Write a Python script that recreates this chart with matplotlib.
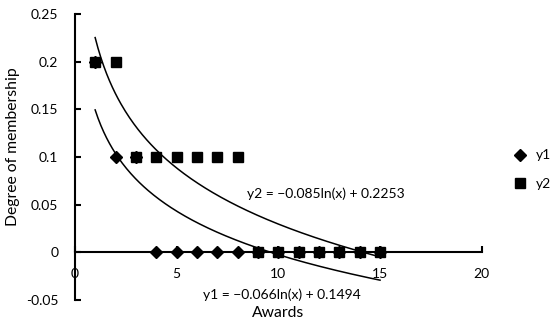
import matplotlib
matplotlib.use('Agg')

import numpy as np
import matplotlib.pyplot as plt

plt.rcParams['font.family'] = ['Lato', 'DejaVu Sans']

x = [1, 2, 3, 4, 5, 6, 7, 8, 9, 10, 11, 12, 13, 14, 15]
y1 = [0.2, 0.1, 0.1, 0, 0, 0, 0, 0, 0, 0, 0, 0, 0, 0, 0]
y2 = [0.2, 0.2, 0.1, 0.1, 0.1, 0.1, 0.1, 0.1, 0, 0, 0, 0, 0, 0, 0]
a1, b1 = -0.066, 0.1494
a2, b2 = -0.085, 0.2253

fig = plt.figure(figsize=(5.5, 3.27), dpi=100)
ax = fig.add_axes([0.136, 0.083, 0.74, 0.874])

ax.plot(x, y1, linestyle='none', marker='D', markersize=6, color='black', label='y1')
ax.plot(x, y2, linestyle='none', marker='s', markersize=6.5, color='black', label='y2')

xt = np.linspace(1, 15, 200)
ax.plot(xt, a1 * np.log(xt) + b1, color='black', linewidth=1.1)
ax.plot(xt, a2 * np.log(xt) + b2, color='black', linewidth=1.1)

ax.set_xlim(0, 20)
ax.set_ylim(-0.05, 0.25)
ax.set_xticks([0, 5, 10, 15, 20])
ax.set_yticks([-0.05, 0, 0.05, 0.1, 0.15, 0.2, 0.25])
ax.set_yticklabels(['-0.05', '0', '0.05', '0.1', '0.15', '0.2', '0.25'])
ax.spines['bottom'].set_position(('data', 0))
ax.spines['top'].set_visible(False)
ax.spines['right'].set_visible(False)
ax.spines['left'].set_linewidth(1.5)
ax.spines['bottom'].set_linewidth(1.5)
ax.tick_params(direction='in', length=4.5, width=1.5, labelsize=10)
ax.tick_params(axis='x', pad=11)
ax.tick_params(axis='y', pad=12)

ax.text(8.45, 0.0615, 'y2 = \u22120.085ln(x) + 0.2253', fontsize=10, va='center')
ax.text(6.3, -0.0448, 'y1 = \u22120.066ln(x) + 0.1494', fontsize=10, va='center')

fig.text(0.024, 0.553, 'Degree of membership', fontsize=11.3, rotation=90,
         ha='center', va='center')
fig.text(0.505, 0.043, 'Awards', fontsize=11.3, ha='center', va='center')

ax.legend(loc='center left', bbox_to_anchor=(1.03, 0.455), frameon=False,
          fontsize=10, handletextpad=0.1, labelspacing=1.2)

fig.savefig('out.png', dpi=100)
